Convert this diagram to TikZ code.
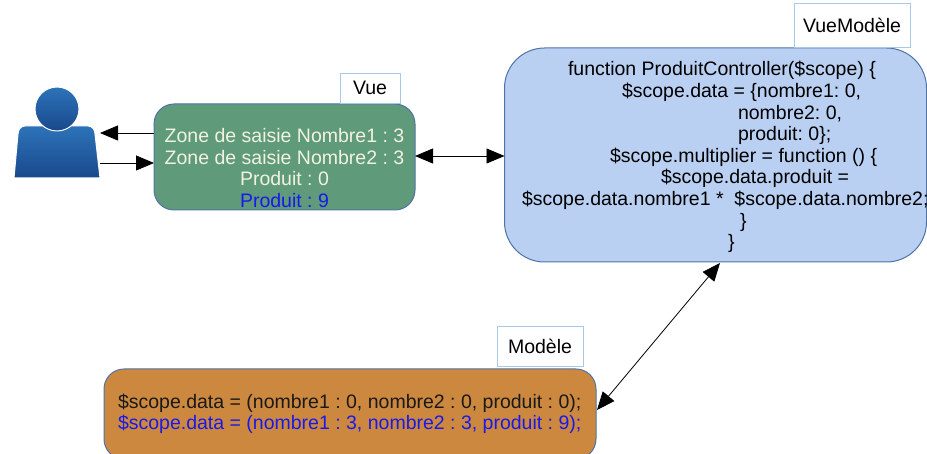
\documentclass[tikz,border=0pt]{standalone}
\usepackage{fontspec}
\setmainfont{Liberation Sans}
\usetikzlibrary{arrows.meta,calc}
\definecolor{vuefill}{RGB}{95,154,122}
\definecolor{vmfill}{RGB}{185,208,242}
\definecolor{modfill}{RGB}{204,136,62}
\definecolor{boxline}{RGB}{80,115,165}
\definecolor{lblline}{RGB}{170,200,232}
\definecolor{cream}{RGB}{242,242,224}
\definecolor{bluetxt}{RGB}{25,25,235}
\definecolor{persLight}{RGB}{45,115,185}
\definecolor{persDark}{RGB}{25,72,140}
\frenchspacing
\begin{document}
\begin{tikzpicture}[x=1pt,y=-1pt,
  font=\fontsize{19.5}{21.6}\selectfont,
  every node/.style={inner sep=0pt,outer sep=0pt},
  lbl/.style={draw=lblline,fill=white,line width=0.8pt,align=center},
  mainbox/.style={draw=boxline,line width=1pt},
  arr/.style={line width=0.8pt,{Triangle[length=18pt,width=15pt]}-{Triangle[length=18pt,width=15pt]}},
  sarr/.style={line width=0.8pt,-{Triangle[length=18pt,width=15pt]}},
  txt/.style={anchor=west}]
\useasboundingbox (0,0) rectangle (927,454);
% person
\shade[top color=persLight,bottom color=persDark,draw=white,line width=1pt]
  (14,178) -- (18,134) to[out=90,in=180] (25,126) -- (88,126) to[out=0,in=90] (95,134) -- (100,178) -- cycle;
\shade[top color=persLight,bottom color=persDark,draw=white,line width=1pt] (57,109) circle[radius=22];
\node[minimum width=86pt,minimum height=52pt] (person) at (57,152) {};
% Vue
\node[mainbox,fill=vuefill,rounded corners=20pt,minimum width=261pt,minimum height=106pt] (vue) at (284.5,157) {};
\node[lbl,minimum width=60pt,minimum height=30pt] (vuelbl) at (370,88) {Vue};
\node[align=center,text=cream] (vuetxt) at (284.5,168) {Zone de saisie Nombre1 : 3\\Zone de saisie Nombre2 : 3\\Produit : 0\\\textcolor{bluetxt}{Produit : 9}};
% VueModele
\node[mainbox,fill=vmfill,rounded corners=40pt,minimum width=422pt,minimum height=214pt] (vm) at (715.5,155) {};
\node[lbl,minimum width=116pt,minimum height=44pt] (vmlbl) at (852,25.5) {VueModèle};
\node[txt] (l1) at (568,70) {function ProduitController(\$scope) \{};
\node[txt] (l2) at (622,92) {\$scope.data = \{nombre1: 0,};
\node[txt] (l3) at (738,114) {nombre2: 0,};
\node[txt] (l4) at (738,135) {produit: 0\};};
\node[txt] (l5) at (610,157) {\$scope.multiplier = function () \{};
\node[txt] (l6) at (661,178) {\$scope.data.produit =};
\node[txt] (l7) at (522,200) {\$scope.data.nombre1 *\ \ \$scope.data.nombre2;};
\node[txt] (l8) at (740,222) {\}};
\node[txt] (l9) at (728,243) {\}};
% Modele
\node[mainbox,fill=modfill,rounded corners=20pt,minimum width=492pt,minimum height=90pt] (mod) at (350,414) {};
\node[lbl,minimum width=86pt,minimum height=40pt] (modlbl) at (540,346) {Modèle};
\node[txt,text=black!90] (m1) at (118,403) {\$scope.data = (nombre1 : 0, nombre2 : 0, produit : 0);};
\node[txt,text=bluetxt] (m2) at (118,424) {\$scope.data = (nombre1 : 3, nombre2 : 3, produit : 9);};
% connectors
\draw[sarr] (vue.west |- {(0,133)}) -- (person.east |- {(0,133)});
\draw[sarr] (person.east |- {(0,163)}) -- (vue.west |- {(0,163)});
\draw[arr] (vue.east |- {(0,156)}) -- (vm.west |- {(0,156)});
\coordinate (vmb) at (720,263);
\coordinate (modr) at (597,410);
\draw[arr] (modr) -- (vmb);
\end{tikzpicture}
\end{document}
